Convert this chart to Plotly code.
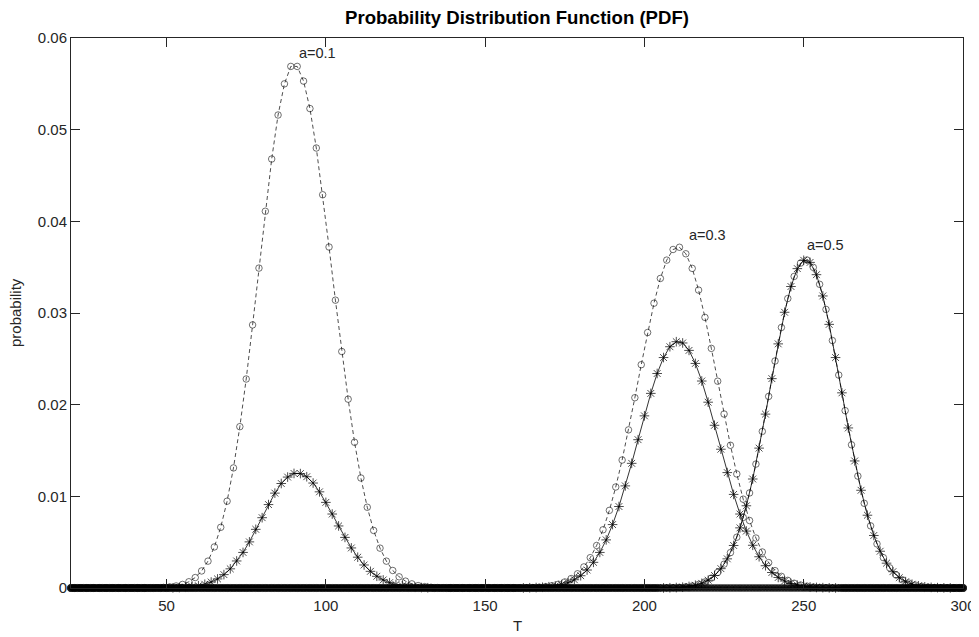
import plotly.graph_objects as go

# sampling grids (T): stars on even T, circles on odd T
t_even = list(range(20, 301, 2))   # 141 points
t_odd = list(range(21, 300, 2))    # 140 points

# a=0.1, circles, dashed (odd T)
pdf_a01_circ = [
    0, 0, 0, 0, 0, 0, 0, 0, 0, 0,
    0, 0,
    0.00001, 0.00003, 0.00006, 0.00012, 0.00022, 0.00039, 0.00068, 0.00114, 0.00186, 0.00293,
    0.00448, 0.00662, 0.00947, 0.0131, 0.0176, 0.0228, 0.0287, 0.0349, 0.0411, 0.0468,
    0.0516, 0.0550, 0.0569, 0.0569, 0.0553, 0.0523, 0.0480, 0.0429, 0.0372, 0.0314,
    0.0258, 0.0206, 0.0159, 0.0120, 0.00881, 0.00628, 0.00435, 0.00293, 0.00191, 0.00122,
    0.00075, 0.00045, 0.00026, 0.00015, 0.00008, 0.00004, 0.00002,
    0, 0, 0, 0, 0, 0, 0, 0, 0, 0,
    0, 0, 0, 0, 0, 0, 0, 0, 0, 0,
    0, 0, 0, 0, 0, 0, 0, 0, 0, 0,
    0, 0, 0, 0, 0, 0, 0, 0, 0, 0,
    0, 0, 0, 0, 0, 0, 0, 0, 0, 0,
    0, 0, 0, 0, 0, 0, 0, 0, 0, 0,
    0, 0, 0, 0, 0, 0, 0, 0, 0, 0,
    0, 0, 0, 0, 0, 0, 0, 0, 0, 0,
    0,
]

# a=0.1, stars, solid (even T)
pdf_a01_star = [
    0, 0, 0, 0, 0, 0, 0, 0, 0, 0,
    0, 0, 0, 0, 0, 0,
    0.00002, 0.00005, 0.00009, 0.00015, 0.00025, 0.00041, 0.00065, 0.00099, 0.00146, 0.00209,
    0.00295, 0.00388, 0.00503, 0.0064, 0.00767, 0.0091, 0.01035, 0.0114, 0.0121, 0.0125,
    0.01248, 0.01214, 0.01145, 0.01049, 0.00934, 0.00807, 0.00677, 0.00552, 0.00437, 0.00336,
    0.00251, 0.00182, 0.00128, 0.00088, 0.00058, 0.00038, 0.00024, 0.00014, 0.00008, 0.00005,
    0.00003,
    0, 0, 0, 0, 0, 0, 0, 0, 0, 0,
    0, 0, 0, 0, 0, 0, 0, 0, 0, 0,
    0, 0, 0, 0, 0, 0, 0, 0, 0, 0,
    0, 0, 0, 0, 0, 0, 0, 0, 0, 0,
    0, 0, 0, 0, 0, 0, 0, 0, 0, 0,
    0, 0, 0, 0, 0, 0, 0, 0, 0, 0,
    0, 0, 0, 0, 0, 0, 0, 0, 0, 0,
    0, 0, 0, 0, 0, 0, 0, 0, 0, 0,
    0, 0, 0, 0,
]

# a=0.3, circles, dashed (odd T)
pdf_a03_circ = [
    0, 0, 0, 0, 0, 0, 0, 0, 0, 0,
    0, 0, 0, 0, 0, 0, 0, 0, 0, 0,
    0, 0, 0, 0, 0, 0, 0, 0, 0, 0,
    0, 0, 0, 0, 0, 0, 0, 0, 0, 0,
    0, 0, 0, 0, 0, 0, 0, 0, 0, 0,
    0, 0, 0, 0, 0, 0, 0, 0, 0, 0,
    0, 0, 0, 0, 0, 0, 0, 0, 0, 0,
    0.00001, 0.00003, 0.00005, 0.00009, 0.00015, 0.00025, 0.00041, 0.00066, 0.00103, 0.00155,
    0.0023, 0.00331, 0.00464, 0.00635, 0.00847, 0.01102, 0.01396, 0.01725, 0.02076, 0.02436,
    0.02787, 0.03107, 0.03377, 0.03577, 0.03693, 0.03717, 0.03646, 0.03487, 0.0325, 0.02952,
    0.02614, 0.02256, 0.01898, 0.01557, 0.01244, 0.00969, 0.00736, 0.00545, 0.00393, 0.00277,
    0.00189, 0.00127, 0.00083, 0.00052, 0.00032, 0.0002, 0.00011, 0.00007, 0.00004, 0.00002,
    0.00001,
    0, 0, 0, 0, 0, 0, 0, 0, 0, 0,
    0, 0, 0, 0, 0, 0, 0, 0, 0,
]

# a=0.3, stars, solid (even T)
pdf_a03_star = [
    0, 0, 0, 0, 0, 0, 0, 0, 0, 0,
    0, 0, 0, 0, 0, 0, 0, 0, 0, 0,
    0, 0, 0, 0, 0, 0, 0, 0, 0, 0,
    0, 0, 0, 0, 0, 0, 0, 0, 0, 0,
    0, 0, 0, 0, 0, 0, 0, 0, 0, 0,
    0, 0, 0, 0, 0, 0, 0, 0, 0, 0,
    0, 0, 0, 0, 0, 0, 0, 0, 0, 0,
    0,
    0.00001, 0.00003, 0.00005, 0.00008, 0.00014, 0.00023, 0.00037, 0.00058, 0.0009, 0.00134,
    0.00196, 0.0028, 0.00388, 0.00525, 0.00692, 0.00889, 0.01114, 0.0136, 0.01618, 0.01878,
    0.02123, 0.0234, 0.02514, 0.02632, 0.02687, 0.02673, 0.02592, 0.0245, 0.02258, 0.02027,
    0.01775, 0.01514, 0.01259, 0.01021, 0.00807, 0.00621, 0.00466, 0.00341, 0.00243, 0.00169,
    0.00115, 0.00076, 0.00049, 0.00031, 0.00019, 0.00011, 0.00006, 0.00004, 0.00002, 0.00001,
    0, 0, 0, 0, 0, 0, 0, 0, 0, 0,
    0, 0, 0, 0, 0, 0, 0, 0, 0, 0,
]

# a=0.5, circles, dashed (odd T)
pdf_a05_circ = [
    0, 0, 0, 0, 0, 0, 0, 0, 0, 0,
    0, 0, 0, 0, 0, 0, 0, 0, 0, 0,
    0, 0, 0, 0, 0, 0, 0, 0, 0, 0,
    0, 0, 0, 0, 0, 0, 0, 0, 0, 0,
    0, 0, 0, 0, 0, 0, 0, 0, 0, 0,
    0, 0, 0, 0, 0, 0, 0, 0, 0, 0,
    0, 0, 0, 0, 0, 0, 0, 0, 0, 0,
    0, 0, 0, 0, 0, 0, 0, 0, 0, 0,
    0, 0, 0, 0, 0, 0, 0, 0, 0, 0,
    0, 0,
    0.00001, 0.00002, 0.00004, 0.00007, 0.00013, 0.00022, 0.00039, 0.00066, 0.00108, 0.0017,
    0.0026, 0.00386, 0.00554, 0.0077, 0.01037, 0.01352, 0.01708, 0.0209, 0.02476, 0.02842,
    0.03158, 0.03399, 0.03544, 0.03578, 0.03498, 0.03313, 0.03039, 0.027, 0.02323, 0.01935,
    0.01562, 0.01221, 0.00924, 0.00678, 0.00481, 0.00331, 0.0022, 0.00142, 0.00089, 0.00054,
    0.00032, 0.00018, 0.0001, 0.00005, 0.00003, 0.00001,
    0, 0,
]

# a=0.5, stars, solid (even T)
pdf_a05_star = [
    0, 0, 0, 0, 0, 0, 0, 0, 0, 0,
    0, 0, 0, 0, 0, 0, 0, 0, 0, 0,
    0, 0, 0, 0, 0, 0, 0, 0, 0, 0,
    0, 0, 0, 0, 0, 0, 0, 0, 0, 0,
    0, 0, 0, 0, 0, 0, 0, 0, 0, 0,
    0, 0, 0, 0, 0, 0, 0, 0, 0, 0,
    0, 0, 0, 0, 0, 0, 0, 0, 0, 0,
    0, 0, 0, 0, 0, 0, 0, 0, 0, 0,
    0, 0, 0, 0, 0, 0, 0, 0, 0, 0,
    0, 0, 0,
    0.00001, 0.00003, 0.00005, 0.00009, 0.00017, 0.0003, 0.00051, 0.00085, 0.00136, 0.00211,
    0.00318, 0.00464, 0.00656, 0.00897, 0.01189, 0.01526, 0.01897, 0.02284, 0.02663, 0.03008,
    0.03289, 0.03484, 0.03575, 0.03552, 0.03418, 0.03186, 0.02876, 0.02514, 0.02129, 0.01746,
    0.01386, 0.01066, 0.00794, 0.00573, 0.00401, 0.00271, 0.00178, 0.00113, 0.00069, 0.00041,
    0.00024, 0.00013, 0.00007, 0.00004, 0.00002, 0.00001,
    0, 0,
]

assert len(pdf_a01_circ) == len(t_odd), len(pdf_a01_circ)
assert len(pdf_a03_circ) == len(t_odd), len(pdf_a03_circ)
assert len(pdf_a05_circ) == len(t_odd), len(pdf_a05_circ)
assert len(pdf_a01_star) == len(t_even), len(pdf_a01_star)
assert len(pdf_a03_star) == len(t_even), len(pdf_a03_star)
assert len(pdf_a05_star) == len(t_even), len(pdf_a05_star)

# curve labels
label_text = ["a=0.1", "a=0.3", "a=0.5"]
label_t = [90.8, 213.5, 250.4]
label_p = [0.0584, 0.0385, 0.0374]

x_ticks = [50, 100, 150, 200, 250, 300]
y_ticks = [0, 0.01, 0.02, 0.03, 0.04, 0.05, 0.06]
y_tick_text = ["0", "0.01", "0.02", "0.03", "0.04", "0.05", "0.06"]

AX = "#262626"
FONT = "Liberation Sans, Arial, Helvetica, sans-serif"

fig = go.Figure()


def marker_style(values, open_symbol, size):
    # points lying on the baseline pile up into a heavy black band, as in the source
    symbols = ["circle" if v == 0 else open_symbol for v in values]
    sizes = [7 if v == 0 else size for v in values]
    return symbols, sizes


def add_star(y):
    sym, siz = marker_style(y, "asterisk-open", 8)
    fig.add_trace(go.Scatter(
        x=t_even, y=y, mode="lines+markers", cliponaxis=False,
        line=dict(color="black", width=0.8),
        marker=dict(symbol=sym, size=siz, color="black",
                    line=dict(color="#1a1a1a", width=1)),
        showlegend=False,
    ))


def add_circ(y):
    sym, siz = marker_style(y, "circle-open", 6.5)
    fig.add_trace(go.Scatter(
        x=t_odd, y=y, mode="lines+markers", cliponaxis=False,
        line=dict(color="black", width=0.7, dash="4px,3px"),
        marker=dict(symbol=sym, size=siz, color="black",
                    line=dict(color="black", width=0.8)),
        showlegend=False,
    ))


for s in (pdf_a01_star, pdf_a03_star, pdf_a05_star):
    add_star(s)
for c in (pdf_a01_circ, pdf_a03_circ, pdf_a05_circ):
    add_circ(c)

for txt, tx, ty in zip(label_text, label_t, label_p):
    fig.add_annotation(x=tx, y=ty, text=txt, showarrow=False,
                       xanchor="left", yanchor="middle",
                       font=dict(family=FONT, size=14.5, color=AX))

# axis titles placed relative to the plot frame
fig.add_annotation(xref="paper", yref="paper", x=0.5, y=0, text="T",
                   showarrow=False, xanchor="center", yanchor="middle",
                   yshift=-37, font=dict(family=FONT, size=15, color=AX))
fig.add_annotation(xref="paper", yref="paper", x=0, y=0.5, text="probability",
                   showarrow=False, xanchor="center", yanchor="middle",
                   textangle=-90, xshift=-56,
                   font=dict(family=FONT, size=15, color=AX))

# page body adds an 8px margin, so the figure is sized to the remaining window
fig.update_layout(
    width=971, height=629,
    margin=dict(l=63, r=16, t=30, b=49, autoexpand=False),
    paper_bgcolor="white", plot_bgcolor="white",
    font=dict(family=FONT, size=15, color=AX),
    title=dict(text="<b>Probability Distribution Function (PDF)</b>",
               xref="paper", x=0.5, xanchor="center",
               yref="container", y=0.985, yanchor="middle",
               font=dict(family=FONT, size=18.6, color="black")),
)
fig.update_xaxes(
    range=[20, 300], tickvals=x_ticks, ticks="inside", ticklen=9,
    tickcolor=AX, tickwidth=1, showline=True, linecolor=AX, linewidth=1,
    mirror="ticks", showgrid=False, zeroline=False, ticklabelstandoff=4,
    automargin=False,
)
fig.update_yaxes(
    range=[0, 0.06], tickvals=y_ticks, ticktext=y_tick_text, ticks="inside",
    ticklen=9, tickcolor=AX, tickwidth=1, showline=True, linecolor=AX,
    linewidth=1, mirror="ticks", showgrid=False, zeroline=False,
    automargin=False,
)

fig.write_html("out.html")
